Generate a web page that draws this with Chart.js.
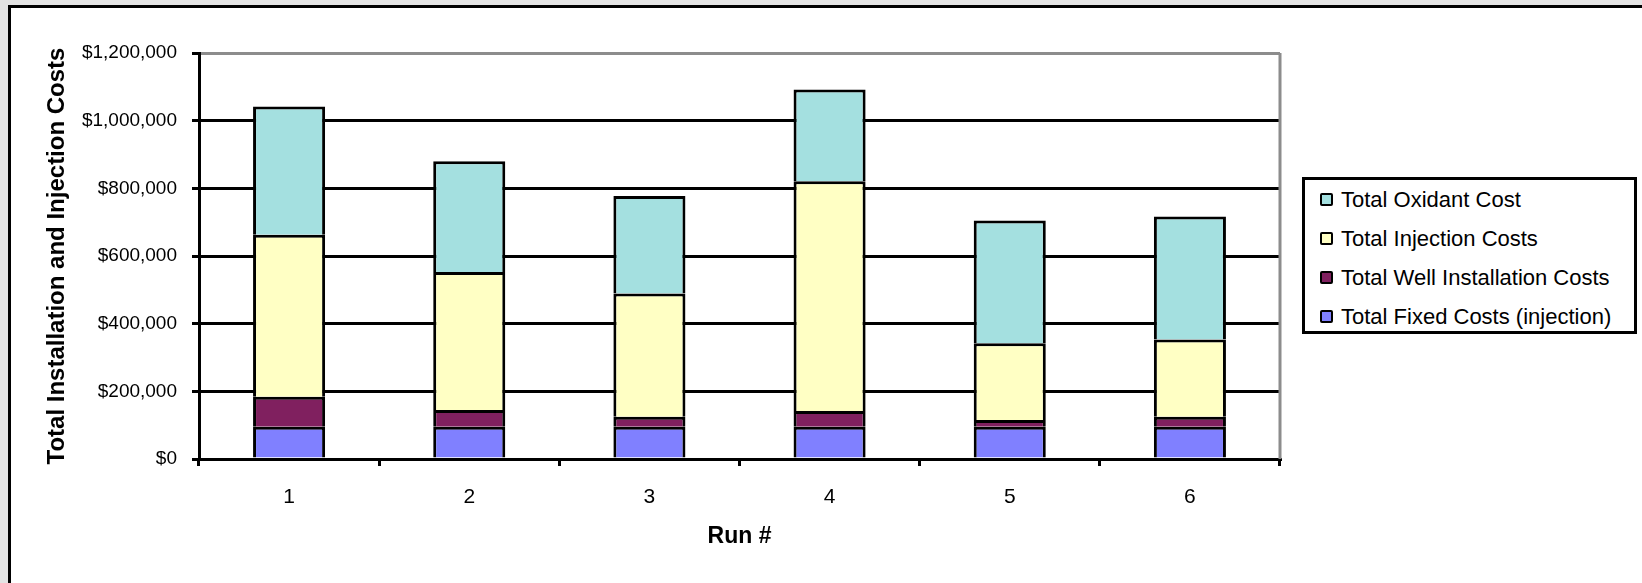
<!DOCTYPE html>
<html>
<head>
<meta charset="utf-8">
<script src="https://cdn.jsdelivr.net/npm/chart.js@4"></script>
<style>
  body { margin: 0; background: #e3e3e3; overflow: hidden; font-family: "Liberation Sans", Arial, sans-serif; }
  #frame { position: absolute; left: 8px; top: 5px; width: 1700px; height: 700px; border: 3px solid #000; background: #fff; }
  #chart { position: absolute; left: 0; top: 0; }
  #legend { position: absolute; left: 1302px; top: 177px; width: 335px; height: 157px; box-sizing: border-box;
            border: 3px solid #000; background: #fff; padding-left: 15px; }
  .item { height: 39px; line-height: 39px; font-size: 22px; color: #000; white-space: nowrap; }
  .swatch { display: inline-block; width: 9px; height: 9px; border: 2px solid #000; border-radius: 2px;
            margin-right: 8px; vertical-align: middle; position: relative; top: -2px; }
</style>
</head>
<body>
<div id="frame"></div>
<canvas id="chart" width="1642" height="583"></canvas>
<div id="legend"></div>
<script>
// Data
const runs = ["1", "2", "3", "4", "5", "6"];
const fixedCosts = [95000, 95000, 95000, 95000, 95000, 95000];
const wellCosts = [89000, 50000, 30000, 47000, 20000, 30000];
const injectionCosts = [479000, 408000, 364000, 679000, 227000, 228000];
const oxidantCosts = [379000, 327000, 288000, 271000, 363000, 364000];
const yTicks = [0, 200000, 400000, 600000, 800000, 1000000, 1200000];

const seriesNames = ["Total Fixed Costs (injection)", "Total Well Installation Costs", "Total Injection Costs", "Total Oxidant Cost"];
const seriesColors = ["#8080ff", "#80205f", "#ffffc4", "#a4e0e0"];
const seriesData = [fixedCosts, wellCosts, injectionCosts, oxidantCosts];

const FONT = "'Liberation Sans', Arial, sans-serif";
const yMax = yTicks[yTicks.length - 1];

// gray right border of the plot area
const plotBorder = {
  id: "plotBorder",
  beforeDatasetsDraw(chart) {
    const { ctx, chartArea } = chart;
    ctx.save();
    ctx.strokeStyle = "#8c8c8c";
    ctx.lineWidth = 3;
    ctx.beginPath();
    ctx.moveTo(chartArea.right, chartArea.top);
    ctx.lineTo(chartArea.right, chartArea.bottom);
    ctx.stroke();
    ctx.restore();
  },
};

const ctx = document.getElementById("chart").getContext("2d");
new Chart(ctx, {
  type: "bar",
  data: {
    labels: runs,
    datasets: seriesData.map((d, i) => ({
      label: seriesNames[i],
      data: d,
      backgroundColor: seriesColors[i],
      borderColor: "#000",
      borderWidth: 3,
      borderSkipped: "start",
      categoryPercentage: 1,
      barPercentage: 0.4,
    })),
  },
  options: {
    responsive: false,
    animation: false,
    layout: { padding: { top: 53, right: 362, left: 0, bottom: 0 } },
    plugins: { legend: { display: false }, tooltip: { enabled: false } },
    scales: {
      x: {
        stacked: true,
        grid: { drawOnChartArea: false, color: "#000", lineWidth: 3, tickLength: 7, offset: true },
        border: { color: "#000", width: 3 },
        ticks: { color: "#000", font: { family: FONT, size: 21 }, padding: 19, maxRotation: 0 },
        title: { display: true, text: "Run #", color: "#000", font: { family: FONT, size: 23, weight: "bold" }, padding: { top: 0, bottom: 33 } },
        afterFit(scale) { scale.height = 124; },
      },
      y: {
        stacked: true,
        min: 0,
        max: yMax,
        afterBuildTicks(scale) { scale.ticks = yTicks.map(v => ({ value: v })); },
        grid: {
          color: (c) => (c.tick && c.tick.value === yMax ? "#8c8c8c" : "#000"),
          tickColor: "#000",
          lineWidth: 3,
          tickLength: 7,
        },
        border: { color: "#000", width: 3 },
        ticks: {
          color: "#000",
          font: { family: FONT, size: 19 },
          padding: 15,
          callback: (v) => "$" + Number(v).toLocaleString("en-US"),
        },
        title: { display: true, text: "Total Installation and Injection Costs", color: "#000", font: { family: FONT, size: 24, weight: "bold" }, padding: { top: 43, bottom: 0 } },
        afterFit(scale) { scale.width = 199; },
      },
    },
  },
  plugins: [plotBorder],
});

// Legend (top of stack first)
const legend = document.getElementById("legend");
for (let i = seriesNames.length - 1; i >= 0; i--) {
  const row = document.createElement("div");
  row.className = "item";
  const sw = document.createElement("span");
  sw.className = "swatch";
  sw.style.background = seriesColors[i];
  row.appendChild(sw);
  row.appendChild(document.createTextNode(seriesNames[i]));
  legend.appendChild(row);
}
</script>
</body>
</html>
